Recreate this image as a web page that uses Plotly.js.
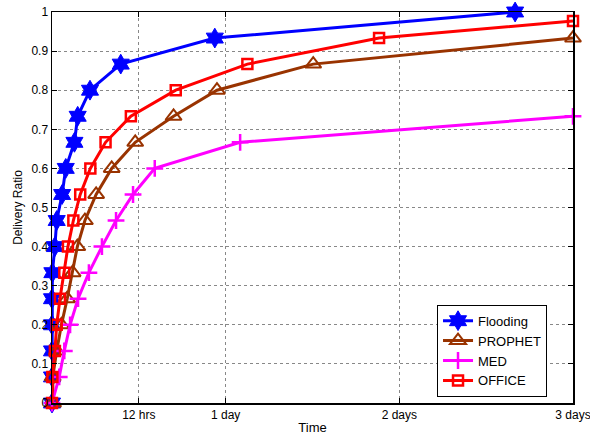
<!DOCTYPE html>
<html>
<head>
<meta charset="utf-8">
<script src="https://cdn.plot.ly/plotly-3.0.1.min.js"></script>
<style>html,body{margin:0;padding:0;background:#fff;}#chart{width:590px;height:436px;}</style>
</head>
<body>
<div id="chart"></div>
<script>
// Time in hours
const floodingX = [0, 0, 0, 0, 0, 0.05, 0.4, 0.65, 1.4, 1.9, 3.1, 3.55, 5.25, 9.5, 22.5, 64];
const floodingY = [0, 0.0667, 0.1333, 0.2, 0.2667, 0.3333, 0.4, 0.4667, 0.5333, 0.6, 0.6667, 0.7333, 0.8, 0.8667, 0.9333, 1.0];

const prophetX = [0.15, 0.1, 0.65, 1.3, 2.1, 2.85, 3.5, 4.55, 6.1, 8.25, 11.5, 16.8, 22.8, 36.1, 72];
const prophetY = [0, 0.0667, 0.1333, 0.2, 0.2667, 0.3333, 0.4, 0.4667, 0.5333, 0.6, 0.6667, 0.7333, 0.8, 0.8667, 0.9333];

const medX = [0, 1.0, 1.7, 2.5, 3.6, 5.1, 6.9, 8.85, 11.2, 14.2, 26, 72];
const medY = [0, 0.0667, 0.1333, 0.2, 0.2667, 0.3333, 0.4, 0.4667, 0.5333, 0.6, 0.6667, 0.7333];

const officeX = [0, 0.05, 0.4, 0.65, 1.1, 1.7, 2.2, 2.95, 3.9, 5.3, 7.4, 10.9, 17.1, 27, 45.2, 72];
const officeY = [0, 0.0667, 0.1333, 0.2, 0.2667, 0.3333, 0.4, 0.4667, 0.5333, 0.6, 0.6667, 0.7333, 0.8, 0.8667, 0.9333, 0.977];

const xTickVals = [12, 24, 48, 72];
const xTickText = ['12 hrs', '1 day', '2 days', '3 days'];
const yTickVals = [0, 0.1, 0.2, 0.3, 0.4, 0.5, 0.6, 0.7, 0.8, 0.9, 1];
const yTickText = ['0', '0.1', '0.2', '0.3', '0.4', '0.5', '0.6', '0.7', '0.8', '0.9', '1'];

const traces = [
  {x: floodingX, y: floodingY, name: 'Flooding', mode: 'lines+markers', cliponaxis: false,
   line: {color: '#0000ff', width: 3},
   marker: {symbol: 'hexagram', size: 15, color: '#0000ff', line: {color: '#0000ff', width: 1}}},
  {x: prophetX, y: prophetY, name: 'PROPHET', mode: 'lines+markers', cliponaxis: false,
   line: {color: '#993300', width: 3},
   marker: {symbol: 'triangle-up-open', size: 14, color: '#993300', line: {color: '#993300', width: 2}}},
  {x: medX, y: medY, name: 'MED', mode: 'lines+markers', cliponaxis: false,
   line: {color: '#ff00ff', width: 3},
   marker: {symbol: 'cross-thin-open', size: 12, color: '#ff00ff', line: {color: '#ff00ff', width: 2.5}}},
  {x: officeX, y: officeY, name: 'OFFICE', mode: 'lines+markers', cliponaxis: false,
   line: {color: '#ff0000', width: 3},
   marker: {symbol: 'square-open', size: 10, color: '#ff0000', line: {color: '#ff0000', width: 2.5}}}
];

const layout = {
  width: 590, height: 436,
  margin: {l: 52, r: 17, t: 12, b: 33},
  paper_bgcolor: '#ffffff', plot_bgcolor: '#ffffff',
  font: {family: 'Liberation Sans, Arial, sans-serif', size: 12, color: '#000'},
  showlegend: true,
  legend: {x: 0.739, y: 0.016, xanchor: 'left', yanchor: 'bottom',
           bgcolor: '#ffffff', bordercolor: '#000', borderwidth: 1,
           font: {size: 13}, tracegroupgap: 0, itemwidth: 30},
  xaxis: {
    range: [0, 72], tickvals: xTickVals, ticktext: xTickText,
    ticks: 'inside', ticklen: 5, tickcolor: '#000',
    showline: true, linecolor: '#000', linewidth: 1.5, mirror: 'ticks',
    showgrid: true, gridcolor: '#888', griddash: 'dot', gridwidth: 1,
    zeroline: false, ticklabeloverflow: 'allow',
    title: {text: 'Time', font: {size: 13}, standoff: 2},
    tickfont: {size: 12}
  },
  yaxis: {
    range: [0, 1], tickvals: yTickVals, ticktext: yTickText,
    ticks: 'inside', ticklen: 5, tickcolor: '#000',
    showline: true, linecolor: '#000', linewidth: 1.5, mirror: 'ticks',
    showgrid: true, gridcolor: '#888', griddash: 'dot', gridwidth: 1,
    zeroline: false,
    title: {text: 'Delivery Ratio', font: {size: 12}, standoff: 6},
    tickfont: {size: 12}
  }
};

Plotly.newPlot('chart', traces, layout, {staticPlot: true, displayModeBar: false});
</script>
</body>
</html>
